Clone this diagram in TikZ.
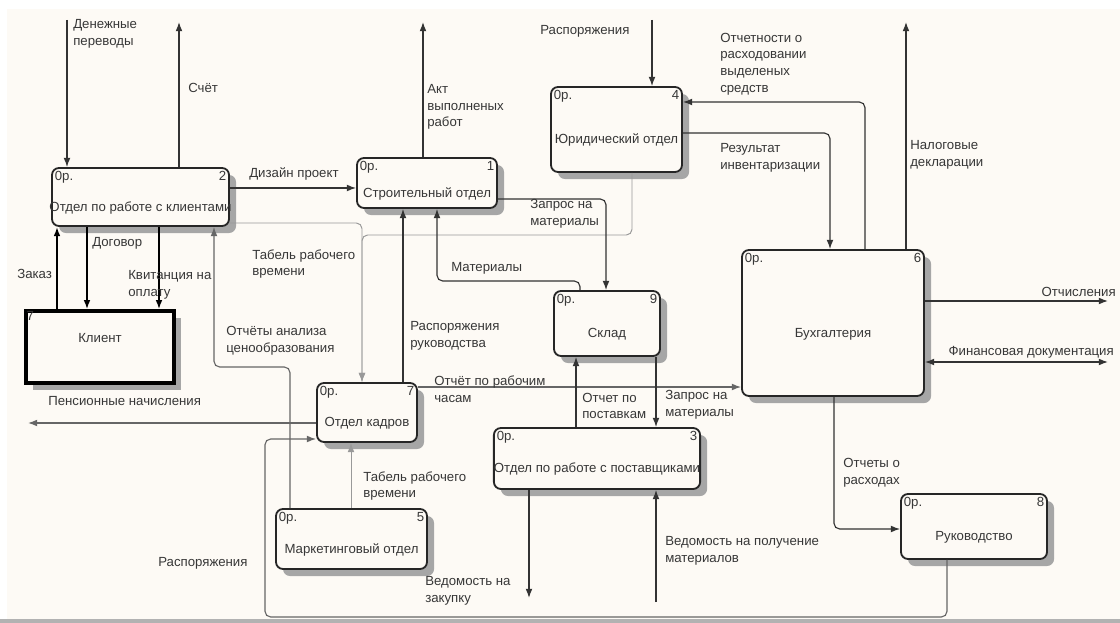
\documentclass[tikz,border=0pt]{standalone}
\usepackage{fontspec}
\setmainfont{Liberation Sans}
\usetikzlibrary{arrows.meta}
\definecolor{paper}{RGB}{253,250,245}
\definecolor{ink}{RGB}{55,55,55}

\begin{document}
\begin{tikzpicture}[
            x=0.025cm, y=-0.025cm,
            >={Latex[length=2.3mm,width=1.7mm]},
            font=\fontsize{9.4}{11.9}\selectfont,
            shade/.style={preaction={fill=black!35, transform canvas={xshift=5pt, yshift=-5pt}}},
            proc/.style={draw=black!85, line width=1.3pt, rounded corners=5pt, fill=paper, shade,
                text=ink, text height=20.5pt, text depth=0pt, inner sep=0pt,
                label={[tag, anchor=north west]north west:0р.}},
            ext/.style={draw=black, line width=2.4pt, fill=paper, shade,
                text=ink, text height=6.5pt, text depth=13pt, inner sep=0pt},
            tag/.style={text=ink, inner sep=2.5pt, text height=6.5pt, text depth=0pt},
            lbl/.style={text=ink, align=left, inner sep=0pt, anchor=west},
            flow/.style={draw=black!80, line width=0.8pt, rounded corners=4pt},
            faint/.style={draw=black!40, line width=0.7pt, rounded corners=4pt},
            bold/.style={draw=black, line width=1.6pt}
            ]
            \useasboundingbox (0,0) rectangle (1120,623);
            \fill[white] (0,0) rectangle (1120,623);
            \fill[paper] (7,9) rectangle (1120,619);
            \fill[black!30] (0,619) rectangle (1120,623);

            % processes
            \node[proc, minimum width=4.425cm, minimum height=1.45cm, label={[tag,anchor=north east]north east:2}] (n2) at (140.5,197) {\makebox[4cm]{Отдел по работе с клиентами}};
            \node[proc, minimum width=3.5cm, minimum height=1.25cm, label={[tag,anchor=north east]north east:1}] (n1) at (427,183) {Строительный отдел};
            \node[proc, minimum width=3.275cm, minimum height=2.125cm, label={[tag,anchor=north east]north east:4}] (n4) at (616.5,129.5) {Юридический отдел};
            \node[proc, minimum width=2.65cm, minimum height=1.625cm, label={[tag,anchor=north east]north east:9}] (n9) at (607,323.5) {Склад};
            \node[proc, minimum width=4.55cm, minimum height=3.65cm, label={[tag,anchor=north east]north east:6}] (n6) at (833,323) {Бухгалтерия};
            \node[proc, minimum width=2.5cm, minimum height=1.475cm, label={[tag,anchor=north east]north east:7}] (n7) at (367,412.5) {Отдел кадров};
            \node[proc, minimum width=3.775cm, minimum height=1.5cm, label={[tag,anchor=north east]north east:5}] (n5) at (351.5,539) {Маркетинговый отдел};
            \node[proc, minimum width=5.15cm, minimum height=1.525cm, label={[tag,anchor=north east]north east:3}] (n3) at (597,458.5) {Отдел по работе с поставщиками};
            \node[proc, minimum width=3.65cm, minimum height=1.625cm, label={[tag,anchor=north east]north east:8}] (n8) at (974,526.5) {Руководство};
            \node[ext, minimum width=3.7cm, minimum height=1.8cm, label={[tag,anchor=north west,inner sep=1.5pt]north west:7}] (kl) at (100,347) {Клиент};

            % free ends and bends
            \coordinate (den) at (67,20);
            \coordinate (sch) at (179,22);
            \coordinate (akt) at (423,22);
            \coordinate (rasp) at (652,20);
            \coordinate (otch) at (865,102);
            \coordinate (res) at (830,133);
            \coordinate (nal) at (906,22);
            \coordinate (otchisl) at (1108,301);
            \coordinate (fin) at (1108,362);
            \coordinate (diz) at (300,188);
            \coordinate (zak) at (57,270);
            \coordinate (dog) at (87,270);
            \coordinate (kvit) at (159,270);
            \coordinate (anal1) at (290,367);
            \coordinate (anal2) at (214,367);
            \coordinate (tab1) at (362,223);
            \coordinate (jur) at (632,235);
            \coordinate (ruk) at (403,300);
            \coordinate (mat1) at (580,281);
            \coordinate (mat2) at (437,281);
            \coordinate (zap1) at (606,199);
            \coordinate (chas) at (600,387);
            \coordinate (post) at (576,400);
            \coordinate (zap2) at (656,400);
            \coordinate (zakup) at (529,598);
            \coordinate (poluch) at (656,602);
            \coordinate (rash) at (834,529);
            \coordinate (rb1) at (947,617);
            \coordinate (rb2) at (265,617);
            \coordinate (rb3) at (265,439);
            \coordinate (pens) at (28,423);
            \coordinate (tab2) at (351,480);

            % connectors
            \draw[flow,->] (den) -- (den |- n2.north);
            \draw[flow,->] (sch |- n2.north) -- (sch);
            \draw[flow,->] (akt |- n1.north) -- (akt);
            \draw[flow,->] (rasp) -- (rasp |- n4.north);
            \draw[flow,->] (otch |- n6.north) -- (otch) -- (otch -| n4.east);
            \draw[flow,->] (res -| n4.east) -- (res) -- (res |- n6.north);
            \draw[flow,->] (nal |- n6.north) -- (nal);
            \draw[flow,->] (otchisl -| n6.east) -- (otchisl);
            \draw[flow,<->] (fin -| n6.east) -- (fin);
            \draw[flow,->] (diz -| n2.east) -- (diz -| n1.west);
            \draw[bold,->] (zak |- kl.north) -- (zak |- n2.south);
            \draw[bold,->] (dog |- n2.south) -- (dog |- kl.north);
            \draw[bold,->] (kvit |- n2.south) -- (kvit |- kl.north);
            \draw[flow,draw=black!60,->] (anal1 |- n5.north) -- (anal1) -- (anal2) -- (anal2 |- n2.south);
            \draw[faint,->] (tab1 -| n2.east) -- (tab1) -- (tab1 |- n7.north);
            \draw[faint,->] (jur |- n4.south) -- (jur) -- (tab1 |- jur) -- (tab1 |- n7.north);
            \draw[flow,->] (ruk |- n7.north) -- (ruk |- n1.south);
            \draw[flow,->] (mat1 |- n9.north) -- (mat1) -- (mat2) -- (mat2 |- n1.south);
            \draw[flow,->] (zap1 -| n1.east) -- (zap1) -- (zap1 |- n9.north);
            \draw[flow,draw=black!60,->] (chas -| n7.east) -- (chas -| n6.west);
            \draw[flow,->] (post |- n3.north) -- (post |- n9.south);
            \draw[flow,->] (zap2 |- n9.south) -- (zap2 |- n3.north);
            \draw[flow,->] (zakup |- n3.south) -- (zakup);
            \draw[flow,->] (poluch) -- (poluch |- n3.south);
            \draw[flow,->] (rash |- n6.south) -- (rash) -- (rash -| n8.west);
            \draw[flow,draw=black!60,->] (rb1 |- n8.south) -- (rb1) -- (rb2) -- (rb3) -- (rb3 -| n7.west);
            \draw[flow,draw=black!60,->] (pens -| n7.west) -- (pens);
            \draw[faint,->] (tab2 |- n5.north) -- (tab2 |- n7.south);

            % labels
            \node[lbl] (lDen) at (73,34) {Денежные\\переводы};
            \node[lbl] (lSch) at (188,88) {Счёт};
            \node[lbl] (lAkt) at (427,107) {Акт\\выполненых\\работ};
            \node[lbl] (lRasp) at (540,31) {Распоряжения};
            \node[lbl] (lOtch) at (720,64) {Отчетности о\\расходовании\\выделеных\\средств};
            \node[lbl] (lRes) at (720,158) {Результат\\инвентаризации};
            \node[lbl] (lNal) at (910,155) {Налоговые\\декларации};
            \node[lbl, anchor=east] (lOtchisl) at (1116,292) {Отчисления};
            \node[lbl, anchor=east] (lFin) at (1114,352) {Финансовая документация};
            \node[lbl] (lDiz) at (249,174) {Дизайн проект};
            \node[lbl] (lZak) at (17,274) {Заказ};
            \node[lbl] (lDog) at (92,243) {Договор};
            \node[lbl] (lKvit) at (128,285) {Квитанция на\\оплату};
            \node[lbl] (lTab1) at (252,264) {Табель рабочего\\времени};
            \node[lbl] (lAnal) at (226,341) {Отчёты анализа\\ценообразования};
            \node[lbl] (lMat) at (451,268) {Материалы};
            \node[lbl] (lZap1) at (530,214) {Запрос на\\материалы};
            \node[lbl] (lRuk) at (410,336) {Распоряжения\\руководства};
            \node[lbl] (lChas) at (434,389) {Отчёт по рабочим\\часам};
            \node[lbl] (lPost) at (582,406) {Отчет по\\поставкам};
            \node[lbl] (lZap2) at (665,405) {Запрос на\\материалы};
            \node[lbl] (lPens) at (48,401) {Пенсионные начисления};
            \node[lbl] (lTab2) at (363,486) {Табель рабочего\\времени};
            \node[lbl] (lRasp2) at (158,563) {Распоряжения};
            \node[lbl] (lZakup) at (425,591) {Ведомость на\\закупку};
            \node[lbl] (lPoluch) at (665,551) {Ведомость на получение\\материалов};
            \node[lbl] (lRash) at (843,473) {Отчеты о\\расходах};

            \end{tikzpicture}
\end{document}
